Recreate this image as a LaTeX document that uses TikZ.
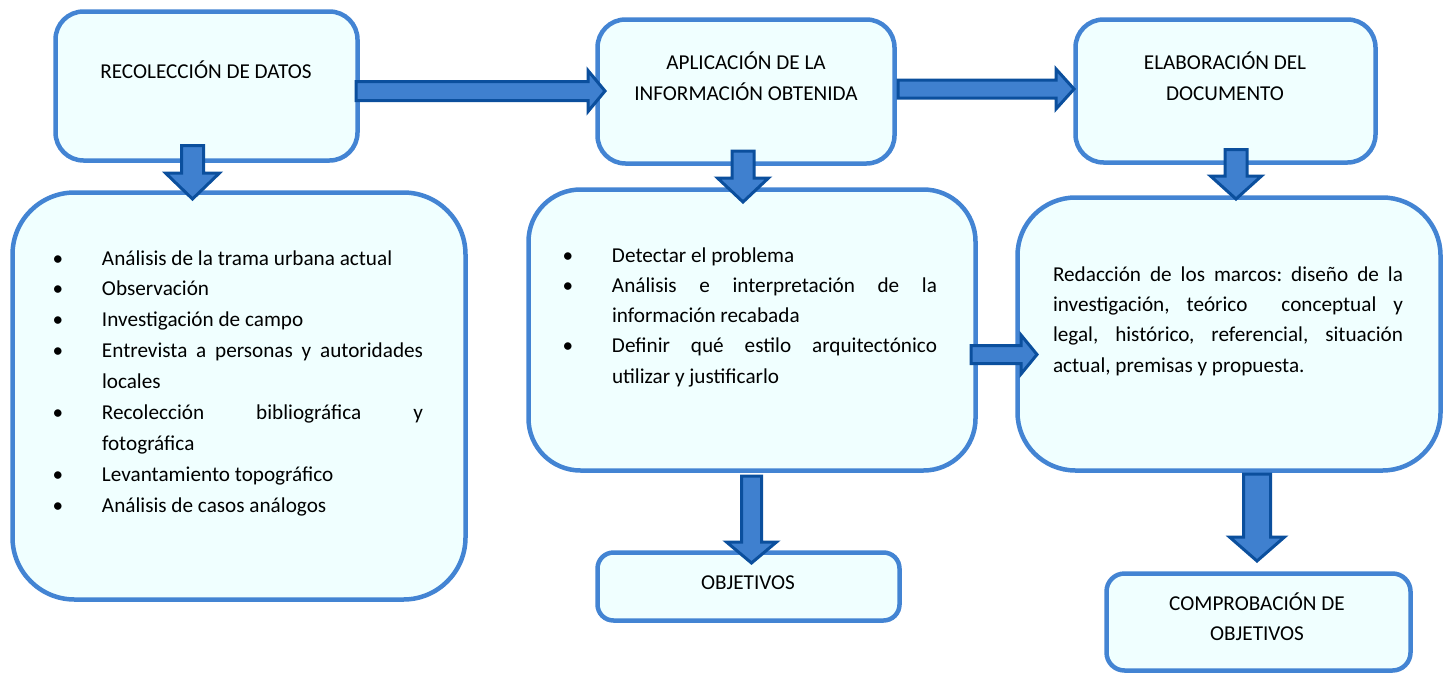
\documentclass[tikz,border=0pt]{standalone}
\usepackage{fontspec}
\setmainfont{Carlito}
\frenchspacing
\definecolor{boxline}{HTML}{4384D3}
\definecolor{boxfill}{HTML}{F0FFFF}
\definecolor{arrfill}{HTML}{3F80CF}
\definecolor{arrline}{HTML}{0B4F9D}
\newcommand\itm{\par\noindent\llap{\makebox[0pt]{\textbullet}\hspace{44pt}}}
\newcommand\DArr[6]{\draw[barrow] ({#1-#2},#3) -- ({#1+#2},#3) -- ({#1+#2},#4) -- ({#1+#5},#4) -- (#1,#6) -- ({#1-#5},#4) -- ({#1-#2},#4) -- cycle;}
\newcommand\RArr[6]{\draw[barrow] (#3,{#1-#2}) -- (#4,{#1-#2}) -- (#4,{#1-#5}) -- (#6,#1) -- (#4,{#1+#5}) -- (#4,{#1+#2}) -- (#3,{#1+#2}) -- cycle;}
\tikzset{
  box/.style={draw=boxline, fill=boxfill, line width=4.5pt, inner sep=0pt, outer sep=0pt},
  barrow/.style={draw=arrline, fill=arrfill, line width=3pt, line join=miter},
  txt/.style={inner sep=0pt, outer sep=0pt, font=\fontsize{21.2}{31}\selectfont},
  lst/.style={txt, anchor=base west}
}
\begin{document}
\begin{tikzpicture}[x=1pt,y=-1pt]
\useasboundingbox (0,0) rectangle (1450,672);
% boxes
\node[box, rounded corners=28pt, minimum width=302pt, minimum height=149pt] (b1) at (206.5,86) {};
\node[box, rounded corners=28pt, minimum width=297pt, minimum height=144pt] (b2) at (746,91.5) {};
\node[box, rounded corners=28pt, minimum width=300pt, minimum height=143pt] (b3) at (1225.5,91) {};
\node[box, rounded corners=62pt, minimum width=453pt, minimum height=407pt] (b4) at (239,396) {};
\node[box, rounded corners=52pt, minimum width=447pt, minimum height=281pt] (b5) at (752,330) {};
\node[box, rounded corners=58pt, minimum width=423pt, minimum height=273pt] (b6) at (1229,334) {};
\node[box, rounded corners=16pt, minimum width=302pt, minimum height=68pt] (b7) at (748.5,586.5) {};
\node[box, rounded corners=18pt, minimum width=304pt, minimum height=97pt] (b8) at (1258.5,622) {};
% header texts
\node[txt, anchor=base] (t1) at (206,78) {RECOLECCIÓN DE DATOS};
\node[txt, anchor=base] (t2) at (746,69) {\parbox[t]{290pt}{\centering\fontsize{21.2}{31}\selectfont APLICACIÓN DE LA\\INFORMACIÓN OBTENIDA}};
\node[txt, anchor=base] (t3) at (1225,69) {\parbox[t]{290pt}{\centering\fontsize{21.2}{31}\selectfont ELABORACIÓN DEL\\DOCUMENTO}};
\node[txt, anchor=base] (t7) at (748,589) {OBJETIVOS};
\node[txt, anchor=base] (t8) at (1257,610) {\parbox[t]{290pt}{\centering\fontsize{21.2}{30}\selectfont COMPROBACIÓN DE\\OBJETIVOS}};
% lists
\node[lst] (l4) at (102,265) {\parbox[t]{321pt}{\fontsize{21.2}{30.9}\selectfont\tolerance=10000\hbadness=10000\hyphenpenalty=10000
\itm Análisis de la trama urbana actual
\itm Observación
\itm Investigación de campo
\itm Entrevista a personas y autoridades\linebreak locales
\itm Recolección bibliográfica y\linebreak fotográfica
\itm Levantamiento topográfico
\itm Análisis de casos análogos}};
\node[lst] (l5) at (612,262) {\parbox[t]{325pt}{\fontsize{21.2}{30.3}\selectfont\tolerance=10000\hbadness=10000\hyphenpenalty=10000
\itm Detectar el problema
\itm Análisis e interpretación de la\linebreak información recabada
\itm Definir qué estilo arquitectónico\linebreak utilizar y justificarlo}};
\node[lst] (l6) at (1053,281) {\parbox[t]{350pt}{\fontsize{21.2}{30.4}\selectfont\tolerance=10000\hbadness=10000\hyphenpenalty=10000\noindent
Redacción de los marcos: diseño de la\linebreak investigación, teórico\ \ conceptual y\linebreak legal, histórico, referencial, situación\linebreak actual, premisas y propuesta.}};
% block arrows
\RArr{91}{9.5}{356}{588}{20.5}{605}
\RArr{89}{9}{898}{1056}{20}{1074}
\RArr{354.5}{9}{971}{1021}{19.5}{1037}
\DArr{192.5}{11}{145.5}{173}{27}{199}
\DArr{743}{11}{151}{178}{25.5}{202}
\DArr{1236}{11}{149.5}{176}{25.5}{199}
\DArr{751.5}{10}{476}{542}{25}{563}
\DArr{1257}{13.5}{474}{537}{27.5}{561}
\end{tikzpicture}
\end{document}
